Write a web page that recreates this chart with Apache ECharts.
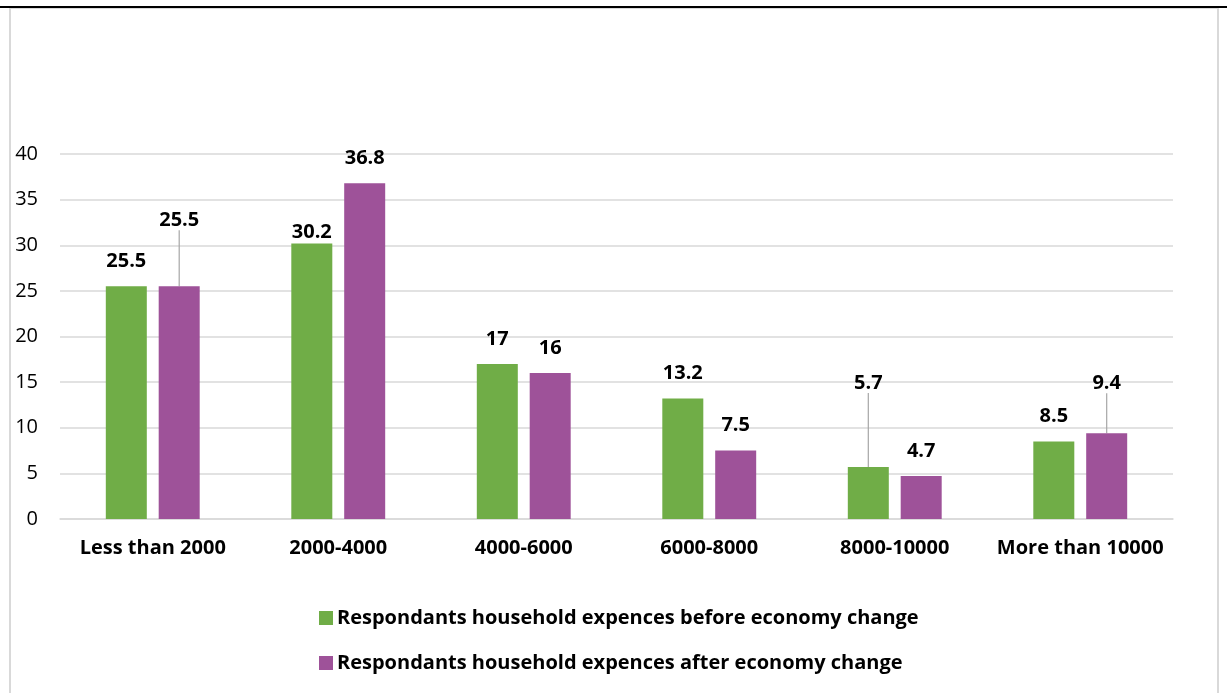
<!DOCTYPE html>
<html>
<head>
<meta charset="utf-8">
<script src="https://cdn.jsdelivr.net/npm/echarts@6/dist/echarts.min.js"></script>
<style>
  html, body { margin: 0; padding: 0; background: #fff; }
  #chart { width: 1227px; height: 693px; }
</style>
</head>
<body>
<div id="chart"></div>
<script>
// Monthly household expense bands
const categories = ['Less than 2000', '2000-4000', '4000-6000', '6000-8000', '8000-10000', 'More than 10000'];
const beforeValues = [25.5, 30.2, 17, 13.2, 5.7, 8.5];
const afterValues = [25.5, 36.8, 16, 7.5, 4.7, 9.4];
const seriesNames = [
  'Respondants household expences before economy change',
  'Respondants household expences after economy change'
];
const yTicks = [0, 5, 10, 15, 20, 25, 30, 35, 40];

// Labels lifted above their bar, joined back to it by a thin leader line
const beforeShift = [0, 14, 0, 0, -59, 0];
const afterShift = [-41, 0, 0, 0, 0, -25];
const beforeLeader = [false, false, false, false, true, false];
const afterLeader = [true, false, false, false, false, true];

const FONT = '"Open Sans", "Noto Sans", sans-serif';

function buildData(values, leaders) {
  return values.map((v, i) => ({
    value: v,
    labelLine: { show: leaders[i], lineStyle: { color: '#A6A6A6', width: 1.2 } }
  }));
}

const chart = echarts.init(document.getElementById('chart'), null, { renderer: 'canvas' });

const labelStyle = {
  show: true,
  position: 'top',
  distance: 15,
  color: '#000',
  fontFamily: FONT,
  fontWeight: 'bold',
  fontSize: 20
};

chart.setOption({
  animation: false,
  backgroundColor: '#fff',
  graphic: [
    { type: 'rect', shape: { x: 10, y: 8, width: 1208, height: 700 },
      style: { fill: 'none', stroke: '#D9D9D9', lineWidth: 2 }, silent: true },
    { type: 'line', shape: { x1: 0, y1: 7, x2: 1227, y2: 7 },
      style: { stroke: '#000', lineWidth: 2 }, silent: true }
  ],
  grid: { left: 60, right: 54, top: 154, bottom: 174, containLabel: false },
  legend: {
    orient: 'vertical',
    left: 314,
    top: 603,
    itemGap: 25,
    itemWidth: 14,
    itemHeight: 14,
    icon: 'rect',
    textStyle: { color: '#000', fontFamily: FONT, fontWeight: 'bold', fontSize: 20, padding: [0, 0, 0, -1] },
    data: seriesNames
  },
  xAxis: {
    type: 'category',
    data: categories,
    axisLine: { show: true, lineStyle: { color: '#D9D9D9', width: 1.5 } },
    axisTick: { show: false },
    axisLabel: { color: '#000', fontFamily: FONT, fontWeight: 'bold', fontSize: 20, margin: 19, interval: 0 }
  },
  yAxis: {
    type: 'value',
    min: yTicks[0],
    max: yTicks[yTicks.length - 1],
    interval: 5,
    axisLine: { show: false },
    axisTick: { show: false },
    splitLine: { lineStyle: { color: '#D9D9D9', width: 1.5 } },
    axisLabel: { color: '#000', fontFamily: FONT, fontSize: 20, margin: 22 }
  },
  series: [
    {
      name: seriesNames[0],
      type: 'bar',
      barWidth: 41,
      barGap: '29%',
      itemStyle: { color: '#70AD47' },
      label: labelStyle,
      labelLayout: p => ({ dy: beforeShift[p.dataIndex] }),
      data: buildData(beforeValues, beforeLeader)
    },
    {
      name: seriesNames[1],
      type: 'bar',
      barWidth: 41,
      itemStyle: { color: '#9E5299' },
      label: labelStyle,
      labelLayout: p => ({ dy: afterShift[p.dataIndex] }),
      data: buildData(afterValues, afterLeader)
    }
  ]
});
</script>
</body>
</html>
